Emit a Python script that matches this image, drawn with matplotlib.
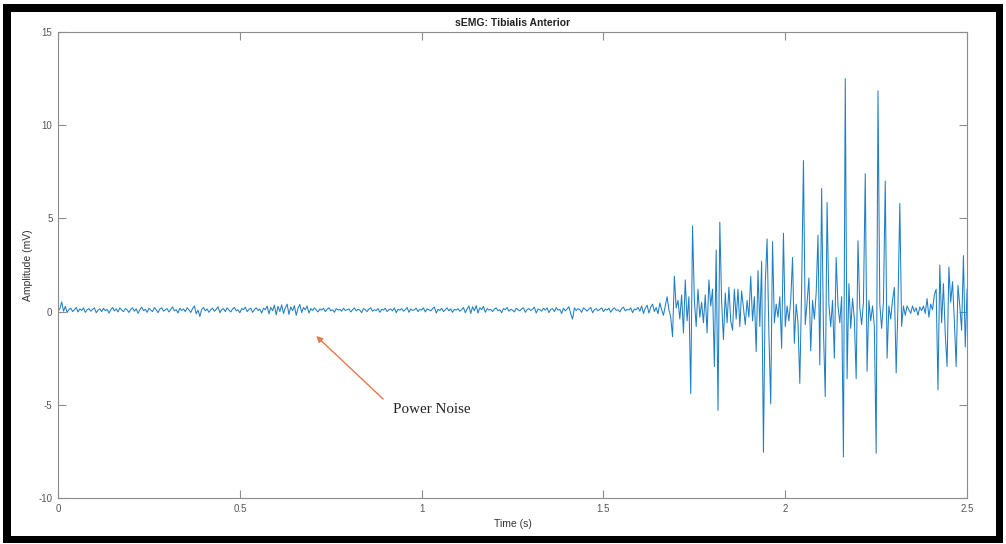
import numpy as np
import matplotlib
matplotlib.use('Agg')
import matplotlib.pyplot as plt
from matplotlib.patches import Rectangle

# sampling of the recorded trace
sample_dt = 0.005  # s

# quiet part of the recording (0 .. 1.665 s), mV
baseline_mv = [
    0.05, 0.15, 0.52, 0.02, 0.28, -0.05, 0.12, 0.18, 0.0, 0.1, 0.22, -0.02, 0.14, 0.06, 0.2, -0.04, 0.1, 0.16, 0.02, 0.12,
    0.2, -0.06, 0.08, 0.15, 0.0, 0.18, 0.05, 0.12, -0.08, 0.1, 0.22, 0.04, 0.14, -0.02, 0.2, 0.08, 0.0, 0.16, 0.1, -0.05,
    0.12, 0.2, 0.02, 0.15, -0.1, 0.1, 0.24, 0.05, 0.12, -0.04, 0.18, 0.08, 0.0, 0.22, 0.1, -0.06, 0.14, 0.2, 0.02, 0.1,
    0.16, -0.02, 0.12, 0.25, 0.04, 0.1, -0.08, 0.18, 0.06, 0.14, 0.0, 0.2, 0.1, -0.05, 0.16, 0.3, -0.12, 0.08, -0.26, 0.12,
    0.22, 0.04, 0.14, -0.04, 0.1, 0.18, 0.02, 0.12, 0.26, -0.06, 0.1, 0.16, 0.0, 0.2, 0.08, -0.02, 0.14, 0.22, 0.04, 0.1,
    -0.06, 0.16, 0.1, 0.24, 0.0, 0.12, 0.18, -0.04, 0.1, 0.2, 0.06, 0.14, -0.08, 0.18, 0.1, 0.3, -0.12, 0.22, 0.05, 0.34,
    -0.18, 0.28, 0.0, 0.36, -0.1, 0.2, 0.4, -0.15, 0.25, 0.05, 0.32, -0.2, 0.18, 0.38, -0.05, 0.22, 0.1, 0.3, -0.08, 0.16,
    0.06, 0.2, 0.1, -0.02, 0.14, 0.08, 0.18, 0.0, 0.12, 0.2, 0.04, 0.1, -0.04, 0.16, 0.08, 0.12, 0.02, 0.18, 0.06, 0.1,
    0.14, -0.02, 0.1, 0.2, 0.04, 0.12, 0.08, -0.06, 0.16, 0.1, 0.0, 0.14, 0.2, 0.02, 0.1, 0.06, 0.16, -0.04, 0.12, 0.08,
    0.18, 0.0, 0.1, 0.14, 0.04, 0.2, -0.06, 0.12, 0.08, 0.16, 0.02, 0.1, 0.22, -0.04, 0.14, 0.06, 0.1, 0.18, 0.0, 0.12,
    0.08, 0.2, -0.02, 0.14, 0.1, 0.04, 0.16, 0.24, -0.08, 0.12, 0.06, 0.18, 0.0, 0.1, 0.2, 0.04, 0.14, -0.04, 0.12, 0.08,
    0.16, 0.02, 0.1, 0.22, -0.06, 0.14, 0.3, -0.1, 0.26, 0.04, 0.32, -0.08, 0.2, 0.1, 0.28, -0.04, 0.16, 0.08, 0.12, 0.0,
    0.14, 0.2, 0.04, 0.1, -0.06, 0.16, 0.1, 0.22, 0.02, 0.12, 0.08, -0.02, 0.18, 0.1, 0.04, 0.14, 0.2, -0.04, 0.1, 0.16,
    0.06, 0.12, 0.24, -0.08, 0.14, 0.1, 0.02, 0.18, 0.08, 0.2, -0.06, 0.12, 0.16, 0.0, 0.22, 0.08, 0.12, -0.1, 0.18, 0.04,
    0.14, 0.26, -0.12, -0.4, 0.2, 0.06, 0.16, 0.1, -0.04, 0.2, 0.12, 0.02, 0.14, 0.22, -0.06, 0.1, 0.16, 0.04, 0.12, 0.2,
    0.0, 0.14, 0.08, 0.18, -0.04, 0.12, 0.2, 0.06, 0.1, -0.02, 0.16, 0.24, 0.04, 0.12, 0.08, 0.2, -0.06, 0.14, 0.1, 0.22,
    0.02, 0.3, -0.1, 0.18, 0.34, -0.08, 0.24, 0.4, 0.0, 0.22, -0.12, 0.46, 0.1, -0.2,
]

# muscle activation part (1.67 .. 2.5 s), mV
burst_mv = [
    0.3, 0.8, 0.1, -0.3, -1.35, 1.9, 0.2, 0.6, -0.4, 0.9,
    -1.15, 1.7, -0.5, 0.8, -4.4, 4.6, 0.6, -0.8, 1.2, -0.3,
    0.5, -0.6, 0.9, -1.15, 1.7, 0.3, 1.2, -2.95, 3.3, -5.3,
    4.8, 0.5, -1.5, 1.0, -0.6, 1.3, -0.5, -1.0, 1.2, -0.4,
    1.2, -0.8, 1.1, 0.2, -0.7, 0.6, -0.3, 1.9, -0.5, 0.8,
    -2.15, 2.2, -0.8, 2.7, -7.55, 1.5, 3.9, -1.2, -4.95, 3.75,
    -0.6, 0.4, -0.3, 0.8, -1.97, 4.2, -0.8, 0.3, -0.5, 0.6,
    2.9, -1.7, 0.4, -0.6, -3.85, 1.2, 8.1, -0.7, 0.5, 1.8,
    -2.1, 0.6, -0.4, 1.0, 4.1, -2.86, 6.6, -1.0, -4.56, 5.85,
    0.4, -0.8, 0.6, -2.5, 2.9, 0.3, -0.6, 0.8, -7.8, 12.5,
    -3.6, 1.5, -0.9, 0.7, -0.4, -3.6, 3.8, 0.2, -0.7, 0.5,
    7.4, -3.2, 0.6, -0.5, 0.3, -0.8, -7.6, 11.85, 0.4, -0.9,
    0.5, 7.0, -2.5, 0.3, -0.4, 0.6, 1.3, -3.3, 0.4, 5.8,
    -0.8, 0.3, -0.2, 0.3, 0.1, -0.1, 0.3, 0.0, 0.2, -0.2,
    0.25, 0.05, 0.3, -0.1, 0.7, -0.3, 0.4, 0.1, 0.9, 1.2,
    -4.2, 2.5, -0.6, 1.5, -1.2, -2.95, 2.4, 0.5, 1.6, -0.5,
    -2.95, 1.4, 0.3, -1.0, 3.0, -1.9, 1.2,
]

x_ticks = [0, 0.5, 1, 1.5, 2, 2.5]
x_tick_labels = ['0', '0.5', '1', '1.5', '2', '2.5']
y_ticks = [-10, -5, 0, 5, 10, 15]

emg_mv = np.array(baseline_mv + burst_mv)
time_s = np.arange(len(emg_mv)) * sample_dt

plt.rcParams['font.family'] = ['Liberation Sans', 'DejaVu Sans']
plt.rcParams['axes.unicode_minus'] = False

fig = plt.figure(figsize=(10.06, 5.44), dpi=100)
ax = fig.add_axes([0.0577, 0.0846, 0.9036, 0.8566])

ax.plot(time_s, emg_mv, color='#1f7fc6', lw=0.75)

ax.set_xlim(0, 2.5)
ax.set_ylim(-10, 15)
ax.set_xticks(x_ticks)
ax.set_xticklabels(x_tick_labels)
ax.set_yticks(y_ticks)

axis_grey = '#8c8c8c'
for sp in ax.spines.values():
    sp.set_color(axis_grey)
    sp.set_linewidth(0.8)
ax.tick_params(direction='in', length=5.5, width=0.8, color=axis_grey,
               labelcolor='#555555', labelsize=7, top=True, right=True, pad=4)

ax.set_xlabel('Time (s)', fontsize=7.5, color='#333333', labelpad=4)
ax.set_ylabel('Amplitude (mV)', fontsize=7.5, color='#333333', labelpad=4)
ax.set_title('sEMG: Tibialis Anterior', fontsize=7.5, fontweight='bold', color='#222222', pad=4)

# annotation pointing at the mains noise on the baseline
ax.annotate('', xy=(0.71, -1.31), xytext=(0.894, -4.69),
            arrowprops=dict(arrowstyle='-|>', color='#E8784A', lw=1.0,
                            mutation_scale=9, shrinkA=0, shrinkB=0))
ax.text(0.922, -5.25, 'Power Noise', fontsize=10.8,
        family=['Liberation Serif', 'DejaVu Serif'], color='#222222',
        ha='left', va='center')

# black frame around the screenshot
W, H = 1006.0, 544.0
for (px, py, pw, ph) in [(3, 4, 8, 537), (3, 4, 1000, 8), (3, 536, 1000, 7), (996, 4, 7, 537)]:
    fig.patches.append(Rectangle((px / W, 1 - (py + ph) / H), pw / W, ph / H,
                                 transform=fig.transFigure, facecolor='black',
                                 edgecolor='none', zorder=10))

fig.savefig('out.png', dpi=100)
